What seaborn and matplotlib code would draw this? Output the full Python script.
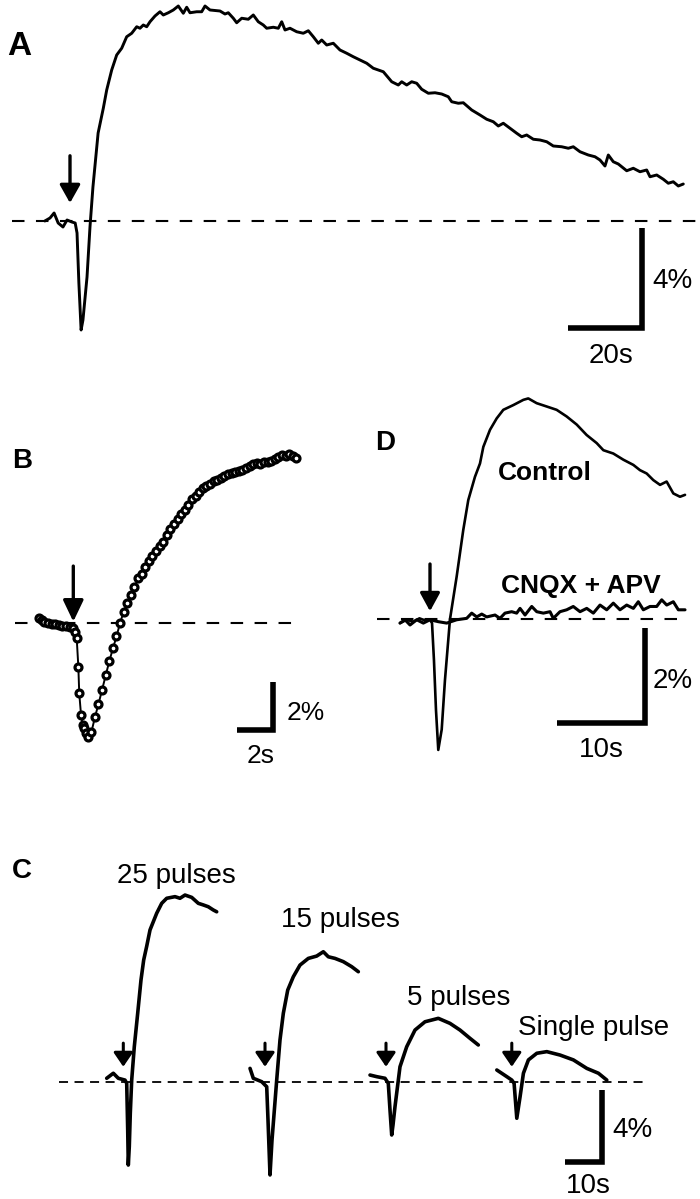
import numpy as np
import pandas as pd
import seaborn as sns
import matplotlib.pyplot as plt

# ---- data (time in s from stimulus, signal in % dF/F) ----
# A - long single trace
a_time = [-6.8, -5.4, -4.3, -3.2, -1.9, -0.8, 0.5, 1.4, 1.9, 2.4,
          3.0, 3.5, 4.6, 5.4, 6.2, 7.6, 9.00, 9.92, 11.27, 12.62,
          13.97, 15.32, 16.68, 18.03, 18.92, 19.81, 20.73, 21.62, 22.97, 24.32,
          25.22, 26.57, 27.92, 29.27, 30.62, 31.54, 32.43, 34.24, 35.59, 36.49,
          37.84, 40.54, 41.89, 42.78, 44.14, 45.05, 46.41, 48.19, 49.54, 50.89,
          52.24, 53.16, 54.95, 56.30, 57.22, 58.11, 59.46, 61.27, 63.05, 64.41,
          65.76, 67.11, 68.03, 69.38, 71.16, 72.97, 74.78, 76.57, 78.38, 80.19,
          81.97, 84.68, 86.95, 88.73, 89.65, 91.00, 92.35, 93.70, 95.05, 96.84,
          98.65, 100.46, 102.24, 103.16, 104.95, 106.30, 108.57, 110.81, 112.62, 114.41,
          115.76, 117.11, 118.92, 120.73, 122.08, 123.43, 125.22, 127.03, 128.84, 130.62,
          132.89, 134.68, 136.03, 137.84, 140.08, 141.89, 143.24, 144.59, 145.49, 146.84,
          148.19, 150.46, 152.24, 154.05, 155.86, 156.76, 158.57, 160.35, 161.70, 163.05,
          164.41, 165.76]
a_signal = [0, 0.12, 0.32, -0.08, -0.24, 0.04, -0.04, -0.08, -0.48, -2.48,
            -4.36, -3.96, -2.24, -0.24, 1.36, 3.52, 4.51, 5.24, 6.04, 6.64,
            6.91, 7.37, 7.51, 7.77, 7.71, 7.84, 7.77, 7.97, 8.20, 8.37,
            8.24, 8.33, 8.44, 8.60, 8.31, 8.55, 8.33, 8.37, 8.37, 8.60,
            8.44, 8.40, 8.28, 8.33, 8.11, 7.93, 8.11, 8.07, 8.24, 7.97,
            7.84, 7.71, 7.75, 7.71, 7.97, 7.64, 7.71, 7.57, 7.51, 7.61,
            7.37, 7.11, 7.24, 7.04, 7.11, 6.84, 6.71, 6.57, 6.44, 6.31,
            6.11, 5.97, 5.57, 5.44, 5.57, 5.44, 5.57, 5.51, 5.27, 5.11,
            5.13, 5.08, 4.97, 4.77, 4.71, 4.73, 4.44, 4.24, 4.07, 3.97,
            3.80, 3.91, 3.71, 3.51, 3.37, 3.44, 3.27, 3.24, 3.17, 3.00,
            2.97, 2.91, 2.97, 2.77, 2.64, 2.57, 2.44, 2.20, 2.64, 2.37,
            2.28, 2.01, 2.11, 1.97, 2.04, 1.77, 1.84, 1.67, 1.51, 1.57,
            1.40, 1.48]

# B - sampled points (expanded time base)
b_time = [-1.89, -1.75, -1.6, -1.4, -1.2, -1.0, -0.8, -0.6, -0.4, -0.2,
          0.0, 0.09, 0.19, 0.28, 0.33, 0.43, 0.52, 0.61, 0.71, 0.8,
          1.0, 1.2, 1.4, 1.6, 1.8, 2.0, 2.2, 2.4, 2.6, 2.8,
          3.0, 3.2, 3.4, 3.6, 3.8, 4.0, 4.2, 4.4, 4.6, 4.8,
          5.0, 5.2, 5.4, 5.6, 5.8, 6.0, 6.2, 6.4, 6.6, 6.8,
          7.0, 7.2, 7.4, 7.6, 7.8, 8.0, 8.2, 8.4, 8.6, 8.8,
          9.0, 9.2, 9.4, 9.6, 9.8, 10.0, 10.2, 10.4, 10.6, 10.8,
          11.0, 11.2, 11.4, 11.6, 11.8, 12.0, 12.2, 12.4]
b_signal = [0.23, 0.12, 0.07, 0.02, -0.03, -0.04, -0.08, -0.12, -0.13, -0.14,
            -0.18, -0.35, -0.63, -1.81, -2.92, -3.82, -4.24, -4.38, -4.58, -4.73,
            -4.55, -3.92, -3.36, -2.77, -2.17, -1.58, -1.05, -0.55, 0.02, 0.48,
            0.86, 1.18, 1.50, 1.88, 2.06, 2.36, 2.60, 2.82, 3.00, 3.20,
            3.40, 3.66, 3.92, 4.12, 4.34, 4.55, 4.74, 4.93, 5.16, 5.30,
            5.46, 5.62, 5.70, 5.80, 5.92, 5.98, 6.06, 6.14, 6.22, 6.26,
            6.30, 6.36, 6.38, 6.46, 6.56, 6.64, 6.68, 6.62, 6.70, 6.74,
            6.76, 6.84, 6.94, 7.02, 6.96, 7.04, 6.98, 6.88]

# C - trains of different length
c_labels = ['25 pulses', '15 pulses', '5 pulses', 'Single pulse']
c_onsets = [0.0, 38.3, 71.0, 105.0]
c25_time = [-4.49, -2.70, -1.35, 0.46, 0.92, 1.19, 1.35, 1.62, 1.89, 2.27,
            2.97, 3.89, 4.78, 5.51, 6.32, 7.22, 9.03, 10.38, 11.73, 13.97,
            15.32, 16.68, 18.49, 20.27, 21.62, 22.97, 24.32, 25.24]
c25_signal = [0.19, 0.47, 0.19, 0.09, -0.09, -2.68, -4.63, -3.61, -1.76, 0.09,
              1.94, 3.80, 5.65, 6.76, 7.52, 8.43, 9.36, 9.91, 10.19, 10.28,
              10.19, 10.37, 10.24, 9.91, 9.82, 9.72, 9.54, 9.44]
c15_time = [-4.05, -3.16, -0.89, 0.46, 0.81, 1.35, 1.89, 3.16, 4.05, 4.95,
            6.14, 7.65, 9.46, 11.70, 13.97, 15.76, 17.11, 18.92, 21.16, 23.43,
            25.22]
c15_signal = [0.74, 0.19, 0.00, -0.28, -2.13, -5.18, -3.24, 0.09, 2.32, 3.80,
              5.09, 5.83, 6.48, 6.85, 6.98, 7.22, 6.94, 6.85, 6.67, 6.39,
              6.11]
c5_time = [-4.32, -2.51, -0.27, 0.62, 1.08, 1.54, 1.89, 2.43, 3.78, 5.59,
           7.84, 10.54, 14.14, 17.30, 20.00, 22.70, 24.95]
c5_signal = [0.37, 0.28, 0.19, -0.09, -1.57, -2.96, -2.41, -1.39, 0.83, 1.94,
             2.87, 3.33, 3.52, 3.24, 2.87, 2.41, 2.04]
c1_time = [-4.05, -1.35, 0.00, 0.62, 1.35, 2.24, 3.14, 4.49, 6.76, 9.46,
           13.05, 16.65, 20.27, 23.41, 25.68]
c1_signal = [0.65, 0.28, 0.09, -0.09, -2.03, -0.83, 0.47, 1.21, 1.58, 1.67,
             1.48, 1.21, 0.74, 0.47, 0.09]

# D - control vs CNQX + APV
d_ctrl_time = [-3.41, -2.65, -1.90, -1.20, -0.76, 0.00, 0.23, 0.45, 0.68, 0.94,
               1.33, 1.70, 2.27, 3.03, 3.78, 4.35, 5.11, 5.68, 6.06, 6.82,
               7.58, 8.33, 9.47, 10.61, 11.17, 12.12, 13.26, 14.39, 15.53, 16.67,
               17.80, 18.94, 19.70, 20.83, 21.97, 23.11, 23.86, 24.62, 25.38, 26.14,
               26.89, 27.65, 28.41, 28.98]
d_ctrl_signal = [-0.08, -0.01, -0.05, 0.02, -0.01, -0.01, -0.08, -0.86, -1.91, -2.75,
                 -2.32, -1.28, 0.00, 0.90, 1.88, 2.51, 3.00, 3.28, 3.63, 3.99,
                 4.23, 4.41, 4.51, 4.62, 4.65, 4.55, 4.48, 4.41, 4.27, 4.10,
                 3.88, 3.71, 3.56, 3.49, 3.36, 3.25, 3.14, 3.07, 2.93, 2.83,
                 2.90, 2.65, 2.58, 2.62]
d_drug_time = [-3.41, -2.84, -2.27, -1.51, -0.76, 0.00, 0.94, 1.90, 3.03, 4.17,
               4.74, 5.31, 5.88, 6.44, 7.39, 7.95, 8.52, 9.28, 9.85, 10.23,
               10.80, 11.56, 12.13, 12.88, 13.64, 14.01, 14.77, 15.53, 16.28, 17.05,
               17.81, 18.56, 19.32, 20.08, 20.83, 21.59, 22.35, 23.11, 23.67, 24.24,
               25.00, 25.76, 26.33, 26.90, 27.65, 28.22, 28.98]
d_drug_signal = [-0.08, -0.01, -0.12, -0.01, -0.08, -0.01, -0.05, -0.08, -0.01, 0.02,
                 0.13, 0.05, 0.11, 0.05, 0.09, 0.02, 0.13, 0.16, 0.13, 0.23,
                 0.09, 0.27, 0.16, 0.13, 0.16, 0.02, 0.16, 0.20, 0.27, 0.16,
                 0.23, 0.13, 0.30, 0.20, 0.34, 0.20, 0.30, 0.23, 0.37, 0.20,
                 0.27, 0.27, 0.41, 0.30, 0.37, 0.20, 0.20]

# ---- figure ----
sns.set_style('white')
plt.rcParams['font.family'] = ['Liberation Sans', 'DejaVu Sans']
plt.rcParams['text.color'] = 'black'

W, H = 700, 1199
fig = plt.figure(figsize=(W / 100, H / 100), dpi=100)


def panel_axes(x0, y0, px_per_s, px_per_pct):
    # transparent axes over the whole figure; (0 s, 0 %) sits at pixel (x0, y0)
    ax = fig.add_axes([0, 0, 1, 1], facecolor='none')
    ax.set_axis_off()
    ax.lims = ((-x0 / px_per_s, (W - x0) / px_per_s),
               ((y0 - H) / px_per_pct, y0 / px_per_pct))
    return ax


def fix_lims(ax):
    ax.set_xlim(*ax.lims[0])
    ax.set_ylim(*ax.lims[1])


def baseline(ax, t0, t1, dash=(6, 5.5), lw=1.5):
    ax.plot([t0, t1], [0, 0], color='black', lw=lw, ls=(0, dash))


def stim_arrow(ax, t, v, shaft, head_len, head_w, lw=2.4):
    ax.annotate('', xy=(t, v), xytext=(0, shaft), textcoords='offset points',
                arrowprops=dict(arrowstyle=f'-|>,head_length={head_len},head_width={head_w}',
                                color='black', lw=lw, shrinkA=0, shrinkB=0,
                                mutation_scale=1))


def scale_bar(ax, x_right, y_bottom, dt, dv, t_lab, v_lab, v_lab_pos, t_lab_pos, size=20):
    ax.plot([x_right - dt, x_right, x_right], [y_bottom, y_bottom, y_bottom + dv],
            color='black', lw=4, solid_joinstyle='miter', solid_capstyle='butt')
    ax.text(v_lab_pos[0], v_lab_pos[1], v_lab, fontsize=size, ha='left', va='baseline')
    ax.text(t_lab_pos[0], t_lab_pos[1], t_lab, fontsize=size, ha='center', va='baseline')


def trace(ax, t, v, lw, **kw):
    df = pd.DataFrame({'t': t, 'v': v})
    sns.lineplot(data=df, x='t', y='v', ax=ax, color='black', lw=lw,
                 estimator=None, sort=False, legend=False, **kw)


# panel A
axA = panel_axes(70, 221, 3.7, 25)
baseline(axA, -15.7, 170.3)
trace(axA, a_time, a_signal, 2.1)
stim_arrow(axA, 0, 0.72, 34, 11, 6.2)
scale_bar(axA, 154.5, -4.28, 20, 4, '20s', '4%', (157.3, -2.68), (146.2, -5.68))
fix_lims(axA)

# panel B
axB = panel_axes(73.3, 623.3, 18, 24)
baseline(axB, -3.24, 12.7)
trace(axB, b_time, b_signal, 1.4, marker='o', markersize=5,
      markerfacecolor='white', markeredgecolor='black', markeredgewidth=2.3)
stim_arrow(axB, 0, 0.07, 40, 13, 6.2)
scale_bar(axB, 11.09, -4.43, 2, 2, '2s', '2%', (11.87, -4.03), (10.43, -5.81), size=19)
fix_lims(axB)

# panel D
axD = panel_axes(430, 619.3, 8.8, 47.5)
baseline(axD, -6.0, 29.3)
trace(axD, d_drug_time, d_drug_signal, 2.2)
trace(axD, d_ctrl_time, d_ctrl_signal, 1.9)
stim_arrow(axD, 0, 0.17, 34, 11, 6.0)
axD.text(13.07, 2.93, 'Control', fontsize=19, fontweight='bold', ha='center', va='baseline')
axD.text(17.16, 0.55, 'CNQX + APV', fontsize=19, fontweight='bold', ha='center', va='baseline')
scale_bar(axD, 24.43, -2.18, 10, 2, '10s', '2%', (25.34, -1.45), (19.43, -2.90))
fix_lims(axD)

# panel C
axC = panel_axes(123.3, 1081.7, 3.7, 18)
baseline(axC, -17.4, 141.5, dash=(5, 3.6), lw=1.3)
c_times = [c25_time, c15_time, c5_time, c1_time]
c_signals = [c25_signal, c15_signal, c5_signal, c1_signal]
c_label_pos = [(14.24, 11.03), (58.6, 8.6), (90.6, 4.26), (127.2, 2.59)]
for onset, t, v, lab, pos in zip(c_onsets, c_times, c_signals, c_labels, c_label_pos):
    trace(axC, np.array(t) + onset, v, 2.6)
    stim_arrow(axC, onset, 0.83, 17, 8.5, 5.8, lw=2.2)
    axC.text(pos[0], pos[1], lab, fontsize=20, ha='center', va='baseline')
scale_bar(axC, 129.4, -4.46, 10, 4, '10s', '4%', (132.1, -3.07), (125.6, -6.17))
fix_lims(axC)

# panel letters
for letter, x, y, size in [('A', 7, 55, 24), ('B', 12, 468, 20),
                           ('D', 375, 450, 20), ('C', 12, 878, 20)]:
    fig.text(x / W, 1 - y / H, letter, fontsize=size, fontweight='bold', va='baseline')

fig.savefig('out.png', dpi=100, facecolor='white')
